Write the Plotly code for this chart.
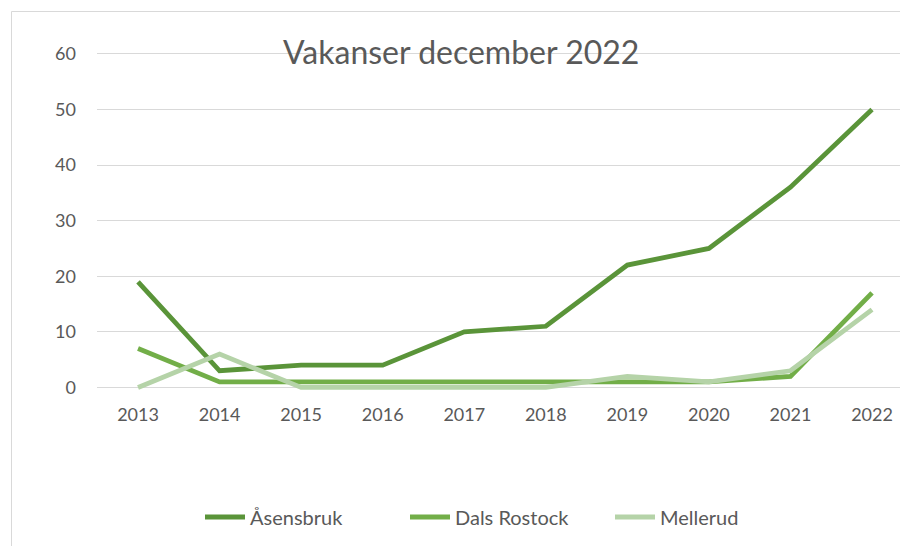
import plotly.graph_objects as go

years = [2013, 2014, 2015, 2016, 2017, 2018, 2019, 2020, 2021, 2022]
asensbruk = [19, 3, 4, 4, 10, 11, 22, 25, 36, 50]
dals_rostock = [7, 1, 1, 1, 1, 1, 1, 1, 2, 17]
mellerud = [0, 6, 0, 0, 0, 0, 2, 1, 3, 14]
series_names = ["Åsensbruk", "Dals Rostock", "Mellerud"]
colors = ["#5A9439", "#72AE48", "#B5D3A8"]
y_ticks = [0, 10, 20, 30, 40, 50, 60]

W, H = 900, 546
L, R, T, B = 97, 0, 51, 153
pw, ph = W - L - R, H - T - B

fig = go.Figure()
for name, vals, col in zip(series_names, [asensbruk, dals_rostock, mellerud], colors):
    fig.add_trace(go.Scatter(x=years, y=vals, name=name, mode="lines",
                             line=dict(color=col, width=4.8)))

def px_x(px):
    return (px - L) / pw

def px_y(py):
    return (H - B - py) / ph

fig.update_layout(
    width=W, height=H,
    margin=dict(l=L, r=R, t=T, b=B),
    paper_bgcolor="white", plot_bgcolor="white",
    font=dict(family="Lato, Open Sans, sans-serif", color="#595959", size=17),
    showlegend=True,
    legend=dict(orientation="h", x=px_x(200), xanchor="left", y=px_y(517), yanchor="middle",
                font=dict(size=20, color="#595959"), itemwidth=40, traceorder="normal",
                entrywidth=150, entrywidthmode="pixels"),
    xaxis=dict(range=[2012.497, 2022.343], tickmode="array", tickvals=years,
               ticktext=[str(y) for y in years], showgrid=False, zeroline=False,
               showline=False, ticks="", tickfont=dict(size=18, color="#595959"),
               ticklabelstandoff=9),
    yaxis=dict(range=[-1, 60.5], tickmode="array", tickvals=y_ticks,
               showgrid=True, gridcolor="#D9D9D9", gridwidth=1, zeroline=False,
               showline=False, ticks="", tickfont=dict(size=18, color="#595959"),
               ticklabelstandoff=20),
    annotations=[dict(text="Vakanser december 2022", xref="paper", yref="paper",
                      x=px_x(461), y=px_y(52), xanchor="center", yanchor="middle",
                      showarrow=False, font=dict(size=32, color="#595959",
                                                 family="Lato, Open Sans, sans-serif"))],
    shapes=[dict(type="path", xref="paper", yref="paper",
                 path=f"M {px_x(11.5)} {px_y(546)} L {px_x(11.5)} {px_y(11.5)} L {px_x(900)} {px_y(11.5)}",
                 line=dict(color="#D9D9D9", width=1))],
)

fig.write_html("out.html", config={"displayModeBar": False},
               post_script="document.body.style.margin='0';document.body.style.overflow='hidden';")
